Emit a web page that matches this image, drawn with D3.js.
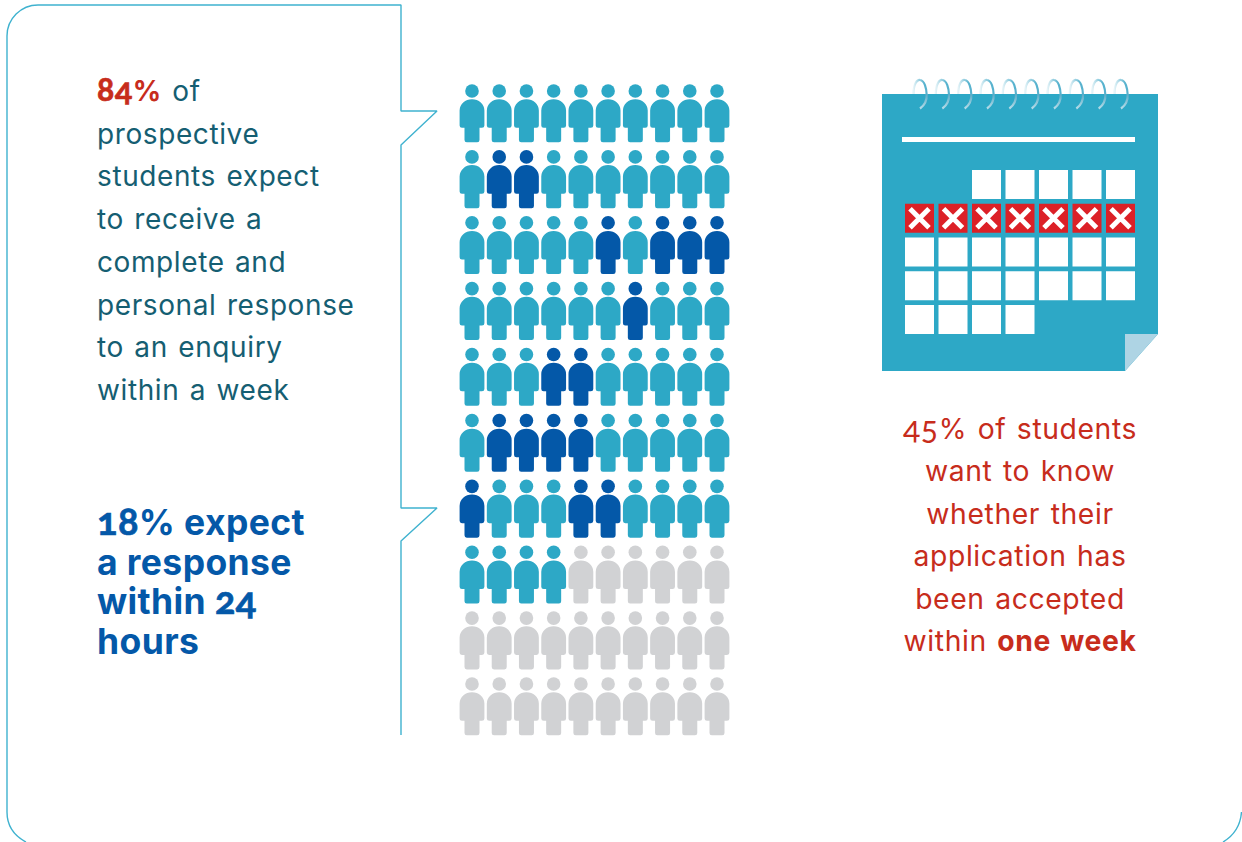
<!DOCTYPE html>
<html>
<head>
<meta charset="utf-8">
<script src="https://cdn.jsdelivr.net/npm/d3@7"></script>
<style>
html,body{margin:0;padding:0;background:#fff;}
svg{display:block;}
text{font-family:"Inter","Open Sans",sans-serif;}
tspan.num{font-family:"Lato",sans-serif;font-feature-settings:"onum" 1;}
</style>
</head>
<body>
<svg id="chart" width="1242" height="842"></svg>
<script>
// Who is represented by each figure in the 10 x 10 grid: t = within a week,
// d = within 24 hours, g = everyone else.
const peopleRows = [
  "tttttttttt",
  "tddttttttt",
  "tttttdtddd",
  "ttttttdttt",
  "tttddttttt",
  "tddddttttt",
  "dtttddtttt",
  "ttttgggggg",
  "gggggggggg",
  "gggggggggg"
];
const peopleColours = { t: "#2da8c6", d: "#0458a8", g: "#d1d2d4" };

// Calendar layout: first and last-plus-one day cell in each week row.
const weekRows = [
  { start: 2, end: 7, marked: false },
  { start: 0, end: 7, marked: true },
  { start: 0, end: 7, marked: false },
  { start: 0, end: 7, marked: false },
  { start: 0, end: 4, marked: false }
];
const ringCount = 10;

const leftLines = [
  [["84%", "red"], [" of", "teal"]],
  [["prospective", "teal"]],
  [["students expect", "teal"]],
  [["to receive a", "teal"]],
  [["complete and", "teal"]],
  [["personal response", "teal"]],
  [["to an enquiry", "teal"]],
  [["within a week", "teal"]]
];
const blueLines = ["18% expect", "a response", "within 24", "hours"];
const rightLines = [
  [["45% of students", false]],
  [["want to know", false]],
  [["whether their", false]],
  [["application has", false]],
  [["been accepted", false]],
  [["within ", false], ["one week", true]]
];

const tone = { red: "#c72c1c", teal: "#155e72", blue: "#0458a8", line: "#3fb2cf", cal: "#2da8c6" };
const svg = d3.select("#chart");

// Splits a string so that digit runs can be set in old-style numerals
const pieces = s => s.split(/(\d+)/).filter(p => p.length).map(p => ({ t: p, num: /^\d+$/.test(p) }));

// Writes styled segments into a text element; bold digits get a hairline to thicken them
function writeSegments(sel, colourOf, weightOf, numSize) {
  sel.selectAll("tspan")
    .data(d => d.flatMap(seg => pieces(seg[0]).map(p => ({ ...p, seg }))))
    .join("tspan")
    .attr("class", d => d.num ? "num" : null)
    .attr("fill", d => colourOf(d.seg))
    .attr("font-weight", d => weightOf(d.seg))
    .attr("font-size", d => d.num ? numSize : null)
    .attr("stroke", d => d.num && weightOf(d.seg) === 700 ? colourOf(d.seg) : null)
    .attr("stroke-width", d => d.num && weightOf(d.seg) === 700 ? 0.7 : null)
    .text(d => d.t);
}

// Speech-bubble outline around the left-hand text
const outline = d3.path();
outline.moveTo(26, 842);
outline.quadraticCurveTo(7, 832, 7, 812);
outline.lineTo(7, 36);
outline.arcTo(7, 5, 38, 5, 31);
outline.lineTo(401, 5);
outline.lineTo(401, 111);
outline.lineTo(437, 111);
outline.lineTo(401, 145);
outline.lineTo(401, 508);
outline.lineTo(437, 508);
outline.lineTo(401, 541);
outline.lineTo(401, 735);
svg.append("path").attr("d", outline.toString())
  .attr("fill", "none").attr("stroke", tone.line).attr("stroke-width", 1.4).attr("stroke-linejoin", "bevel");
const corner = d3.path();
corner.moveTo(1241.5, 812);
corner.quadraticCurveTo(1240, 832, 1223, 842);
svg.append("path").attr("d", corner.toString())
  .attr("fill", "none").attr("stroke", tone.line).attr("stroke-width", 1.4);

// Pictogram grid
const col = d3.scaleLinear().domain([0, 9]).range([472, 717]);
const row = d3.scaleLinear().domain([0, 9]).range([91, 684]);
const figureBody = "M-12.4,19.5 A12.4,11.3 0 0 1 0,8.2 A12.4,11.3 0 0 1 12.4,19.5 L12.4,34.5 Q12.4,36.8 10,36.8 L7.5,36.8 L7.5,49 Q7.5,51.3 5.2,51.3 L-5.2,51.3 Q-7.5,51.3 -7.5,49 L-7.5,36.8 L-10,36.8 Q-12.4,36.8 -12.4,34.5 Z";
const cells = peopleRows.flatMap((s, r) => Array.from(s, (k, c) => ({ r, c, k })));
const fig = svg.append("g").selectAll("g").data(cells).join("g")
  .attr("transform", d => `translate(${col(d.c)},${row(d.r)})`)
  .attr("fill", d => peopleColours[d.k]);
fig.append("circle").attr("r", 6.8);
fig.append("path").attr("d", figureBody);

// Calendar sheet with its folded corner
const cal = svg.append("g");
cal.append("path").attr("d", "M882,94 H1158 V334 L1125,371 H882 Z").attr("fill", tone.cal);
cal.append("path").attr("d", "M1125,334 H1158 L1125,371 Z").attr("fill", "#aed4e4");
cal.append("rect").attr("x", 902).attr("y", 137).attr("width", 233).attr("height", 5).attr("fill", "#fff");

// Spiral binding: an upper arc fading out to the left, a lower tail fading on the sheet
const ringX = d3.scaleLinear().domain([0, ringCount - 1]).range([920, 1121]);
const defs = svg.append("defs");
const upper = defs.append("linearGradient").attr("id", "ringUpper").attr("x1", 0).attr("x2", 1).attr("y1", 0).attr("y2", 0);
upper.append("stop").attr("offset", 0).attr("stop-color", "#e6f4f8");
upper.append("stop").attr("offset", 0.8).attr("stop-color", "#57b2ce");
upper.append("stop").attr("offset", 1).attr("stop-color", "#57b2ce");
const lower = defs.append("linearGradient").attr("id", "ringLower").attr("x1", 0).attr("x2", 0).attr("y1", 0).attr("y2", 1);
lower.append("stop").attr("offset", 0).attr("stop-color", "#57aac6");
lower.append("stop").attr("offset", 1).attr("stop-color", "#b5dce8");
const rings = svg.append("g").attr("fill", "none").selectAll("g").data(d3.range(ringCount)).join("g");
rings.append("path")
  .attr("d", i => {
    const x = ringX(i);
    return `M${x - 6.5},94 C${x - 6.5},84 ${x - 3},79.5 ${x},80 C${x + 4.5},80.5 ${x + 6.5},88 ${x + 6.7},95`;
  })
  .attr("stroke", "url(#ringUpper)").attr("stroke-width", 2.2);
rings.append("path")
  .attr("d", i => {
    const x = ringX(i);
    return `M${x + 6.7},94 C${x + 7},100 ${x + 5},105 ${x},108.5`;
  })
  .attr("stroke", "url(#ringLower)").attr("stroke-width", 2.2);

// Day cells
const dayX = d3.scaleLinear().domain([0, 6]).range([905, 1106]);
const dayY = d3.scaleLinear().domain([0, 4]).range([170, 305]);
const days = weekRows.flatMap((w, r) => d3.range(w.start, w.end).map(c => ({ r, c, marked: w.marked })));
const day = cal.append("g").selectAll("g").data(days).join("g")
  .attr("transform", d => `translate(${dayX(d.c)},${dayY(d.r)})`);
day.append("rect").attr("width", 29).attr("height", 29).attr("fill", d => d.marked ? "#dc2027" : "#fff");
day.filter(d => d.marked).append("path")
  .attr("d", "M5,5 L24,24 M24,5 L5,24")
  .attr("stroke", "#fff").attr("stroke-width", 5).attr("fill", "none");

// Left-hand statement
const leftY = d3.scaleLinear().domain([0, 7]).range([101, 400]);
svg.append("g").selectAll("text").data(leftLines).join("text")
  .attr("x", 97).attr("y", (d, i) => leftY(i))
  .attr("font-size", 28).attr("letter-spacing", 0.6).attr("word-spacing", 2)
  .call(writeSegments, s => tone[s[1]], s => s[1] === "red" ? 700 : 400, 32);

// Blue statement
const blueY = d3.scaleLinear().domain([0, 3]).range([535, 654]);
svg.append("g").selectAll("text").data(blueLines.map(l => [[l]])).join("text")
  .attr("x", 97).attr("y", (d, i) => blueY(i))
  .attr("font-size", 35.5).attr("letter-spacing", 0.4)
  .call(writeSegments, () => tone.blue, () => 700, 38);

// Statement under the calendar
const rightY = d3.scaleLinear().domain([0, 5]).range([439, 651]);
svg.append("g").selectAll("text").data(rightLines).join("text")
  .attr("x", 1020).attr("y", (d, i) => rightY(i))
  .attr("text-anchor", "middle").attr("font-size", 28.3).attr("letter-spacing", 0.6).attr("word-spacing", 2)
  .attr("xml:space", "preserve")
  .call(writeSegments, () => tone.red, s => s[1] ? 700 : 400, 32);
</script>
</body>
</html>
